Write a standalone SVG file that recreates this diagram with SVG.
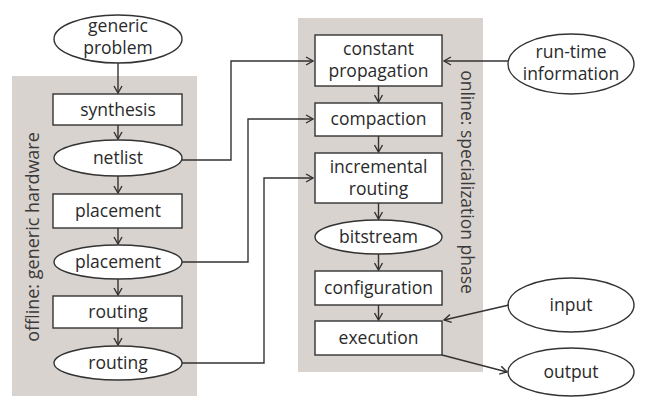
<svg xmlns="http://www.w3.org/2000/svg" width="652" height="398" viewBox="0 0 652 398">
  <style>
    .panel { fill: #d9d3cf; }
    .box { fill: #ffffff; stroke: #333333; stroke-width: 1.4; }
    .lbl { font-family: "Open Sans", "Noto Sans", sans-serif; font-size: 17.5px; fill: #2a2a2a; text-anchor: middle; }
    .side { font-family: "Open Sans", "Noto Sans", sans-serif; font-size: 18px; fill: #3a3a3a; text-anchor: middle; }
    .wire { fill: none; stroke: #333333; stroke-width: 1.4; marker-end: url(#head); }
  </style>
  <defs>
    <marker id="head" viewBox="0 0 10 10" refX="9" refY="5" markerWidth="10" markerHeight="10" markerUnits="userSpaceOnUse" orient="auto">
      <polyline points="2,1 9,5 2,9" fill="none" stroke="#333333" stroke-width="1.4"/>
    </marker>
  </defs>

  <!-- phase panels -->
  <rect class="panel" x="12" y="76" width="185" height="320"/>
  <rect class="panel" x="298" y="18" width="185" height="354"/>
  <text class="side" transform="translate(33,237) rotate(-90)" dy="6">offline: generic hardware</text>
  <text class="side" transform="translate(467,182) rotate(90)" dy="6" style="font-size:17.5px">online: specialization phase</text>

  <!-- offline flow -->
  <g id="generic-problem">
    <ellipse class="box" cx="118" cy="39" rx="64" ry="24"/>
    <text class="lbl" x="118" y="32">generic</text>
    <text class="lbl" x="118" y="54">problem</text>
  </g>
  <g id="synthesis">
    <rect class="box" x="53" y="94" width="129" height="31"/>
    <text class="lbl" x="118" y="116">synthesis</text>
  </g>
  <g id="netlist">
    <ellipse class="box" cx="118" cy="158" rx="64" ry="18"/>
    <text class="lbl" x="118" y="164">netlist</text>
  </g>
  <g id="placement-step">
    <rect class="box" x="53" y="194" width="129" height="34"/>
    <text class="lbl" x="118" y="217">placement</text>
  </g>
  <g id="placement-result">
    <ellipse class="box" cx="118" cy="262" rx="64" ry="17"/>
    <text class="lbl" x="118" y="268">placement</text>
  </g>
  <g id="routing-step">
    <rect class="box" x="53" y="296" width="129" height="32"/>
    <text class="lbl" x="118" y="318">routing</text>
  </g>
  <g id="routing-result">
    <ellipse class="box" cx="118" cy="363" rx="64" ry="17"/>
    <text class="lbl" x="118" y="369">routing</text>
  </g>

  <!-- online flow -->
  <g id="constant-propagation">
    <rect class="box" x="315" y="35" width="127" height="51"/>
    <text class="lbl" x="378.5" y="55">constant</text>
    <text class="lbl" x="378.5" y="77">propagation</text>
  </g>
  <g id="compaction">
    <rect class="box" x="315" y="103" width="127" height="33"/>
    <text class="lbl" x="378.5" y="125">compaction</text>
  </g>
  <g id="incremental-routing">
    <rect class="box" x="315" y="153" width="127" height="50"/>
    <text class="lbl" x="378.5" y="173">incremental</text>
    <text class="lbl" x="378.5" y="195">routing</text>
  </g>
  <g id="bitstream">
    <ellipse class="box" cx="378.5" cy="237" rx="63.5" ry="17"/>
    <text class="lbl" x="378.5" y="243">bitstream</text>
  </g>
  <g id="configuration">
    <rect class="box" x="315" y="271" width="127" height="34"/>
    <text class="lbl" x="378.5" y="294">configuration</text>
  </g>
  <g id="execution">
    <rect class="box" x="315" y="321" width="127" height="34"/>
    <text class="lbl" x="378.5" y="344">execution</text>
  </g>

  <!-- external data -->
  <g id="run-time-information">
    <ellipse class="box" cx="571" cy="64" rx="63" ry="30"/>
    <text class="lbl" x="571" y="58">run-time</text>
    <text class="lbl" x="571" y="80">information</text>
  </g>
  <g id="input">
    <ellipse class="box" cx="571" cy="305" rx="63" ry="27"/>
    <text class="lbl" x="571" y="311">input</text>
  </g>
  <g id="output">
    <ellipse class="box" cx="571" cy="372" rx="63" ry="24"/>
    <text class="lbl" x="571" y="378">output</text>
  </g>

  <!-- connectors -->
  <g id="connectors">
    <line class="wire" x1="118" y1="63" x2="118" y2="93"/>
    <line class="wire" x1="118" y1="125" x2="118" y2="139"/>
    <line class="wire" x1="118" y1="176" x2="118" y2="193"/>
    <line class="wire" x1="118" y1="228" x2="118" y2="244"/>
    <line class="wire" x1="118" y1="279" x2="118" y2="295"/>
    <line class="wire" x1="118" y1="328" x2="118" y2="345"/>

    <line class="wire" x1="378.5" y1="86" x2="378.5" y2="102"/>
    <line class="wire" x1="378.5" y1="136" x2="378.5" y2="152"/>
    <line class="wire" x1="378.5" y1="203" x2="378.5" y2="219"/>
    <line class="wire" x1="378.5" y1="254" x2="378.5" y2="270"/>
    <line class="wire" x1="378.5" y1="305" x2="378.5" y2="320"/>

    <polyline class="wire" points="182,160 231,160 231,61 313,61"/>
    <polyline class="wire" points="182,262 248,262 248,119 313,119"/>
    <polyline class="wire" points="182,363 264,363 264,178 313,178"/>

    <line class="wire" x1="508" y1="61" x2="444" y2="61"/>
    <line class="wire" x1="509" y1="305" x2="444" y2="320"/>
    <line class="wire" x1="442" y1="355" x2="507" y2="372"/>
  </g>
</svg>
